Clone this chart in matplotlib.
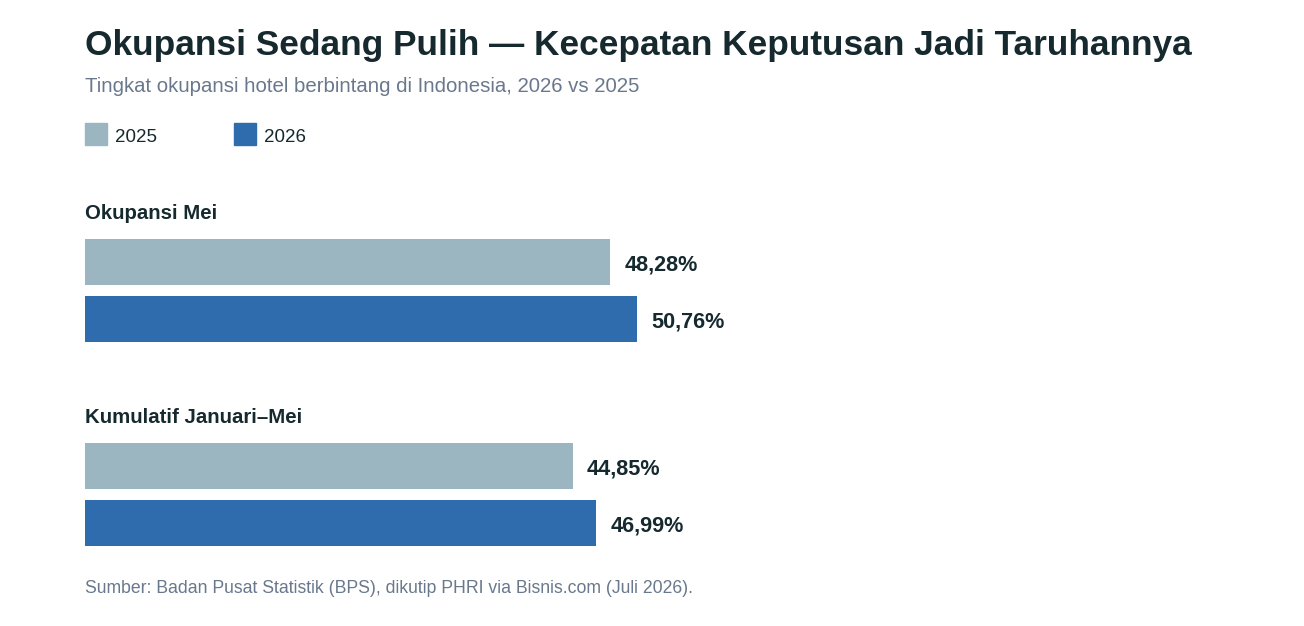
import matplotlib
matplotlib.use("Agg")
from matplotlib import pyplot as plt
from matplotlib.patches import Rectangle

plt.rcParams['font.family'] = ['Liberation Sans', 'DejaVu Sans']

# data
kelompok = ['Okupansi Mei', 'Kumulatif Januari\u2013Mei']
tahun = ['2025', '2026']
nilai_2025 = [48.28, 44.85]
nilai_2026 = [50.76, 46.99]

warna = {'2025': '#9cb6c1', '2026': '#2e6cae'}
gelap = '#15292e'
abu = '#69788c'

W, H = 1304, 626
fig = plt.figure(figsize=(W / 100, H / 100), dpi=100)
fig.patch.set_facecolor('white')


def fx(px):
    return px / W


def fy(py):
    return 1 - py / H


# judul dan subjudul
fig.text(fx(85), fy(55.5), 'Okupansi Sedang Pulih \u2014 Kecepatan Keputusan Jadi Taruhannya',
         fontsize=25.4, fontweight='bold', color=gelap, va='baseline', ha='left')
fig.text(fx(85), fy(92), 'Tingkat okupansi hotel berbintang di Indonesia, 2026 vs 2025',
         fontsize=14.7, color=abu, va='baseline', ha='left')

# legenda
leg_x = [85, 234]
for th, lx in zip(tahun, leg_x):
    fig.patches.append(Rectangle((fx(lx), fy(145)), 22 / W, 22 / H,
                                 transform=fig.transFigure, color=warna[th]))
    fig.text(fx(lx + 30), fy(142), th, fontsize=13.5, color=gelap, va='baseline', ha='left')

# sumbu batang
ax = fig.add_axes([fx(85), fy(560), 1088 / W, 370 / H])
ax.set_xlim(0, 100)
px_per_unit = 57
y_top = -(262 - 190) / px_per_unit
y_bot = (560 - 262) / px_per_unit
ax.set_ylim(y_bot, y_top)
ax.axis('off')

langkah_grup = 204 / px_per_unit
tinggi = 46 / px_per_unit

for i, nama in enumerate(kelompok):
    y0 = i * langkah_grup
    ax.text(0, y0 - 0.75, nama, fontsize=14.7, fontweight='bold', color=gelap,
            va='baseline', ha='left')
    for j, (th, vals) in enumerate(zip(tahun, [nilai_2025, nilai_2026])):
        y = y0 + j
        ax.barh(y, vals[i], height=tinggi, color=warna[th], edgecolor='none')
        ax.annotate(f'{vals[i]:.2f}%'.replace('.', ','), (vals[i], y),
                    xytext=(10, -6.3), textcoords='offset points',
                    fontsize=15.6, fontweight='bold', color=gelap,
                    va='baseline', ha='left')

# sumber
fig.text(fx(85), fy(593),
         'Sumber: Badan Pusat Statistik (BPS), dikutip PHRI via Bisnis.com (Juli 2026).',
         fontsize=12.73, color=abu, va='baseline', ha='left')

fig.savefig('out.png', dpi=100, facecolor='white')
